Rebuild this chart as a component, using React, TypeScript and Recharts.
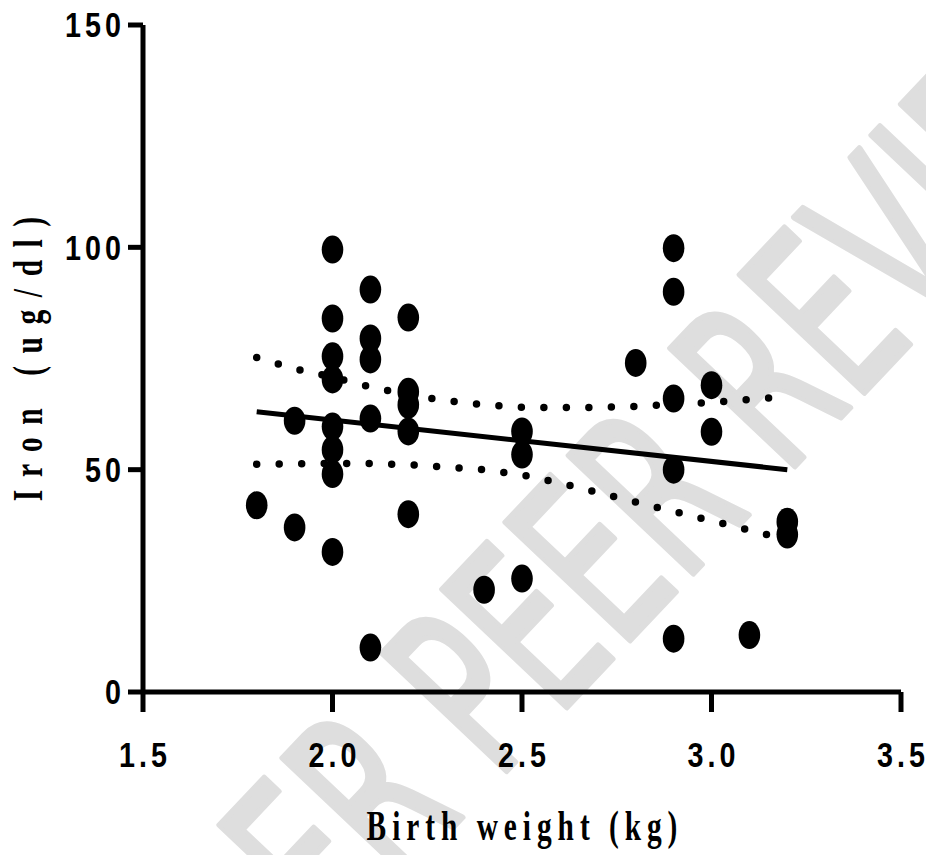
import React from 'react';
import { ScatterChart, Scatter, XAxis, YAxis } from 'recharts';

// ---- data ----
const birthWeight = [1.8, 1.9, 1.9, 2.0, 2.0, 2.0, 2.0, 2.0, 2.0, 2.0, 2.0, 2.1, 2.1, 2.1, 2.1, 2.1, 2.2, 2.2, 2.2, 2.2, 2.2, 2.4, 2.5, 2.5, 2.5, 2.8, 2.9, 2.9, 2.9, 2.9, 2.9, 3.0, 3.0, 3.1, 3.2, 3.2];
const iron = [42, 61, 37, 99.5, 84, 75.5, 70.3, 59.7, 54.5, 49, 31.5, 90.5, 79.5, 74.8, 61.5, 10, 84.2, 67.5, 64.6, 58.6, 40, 23, 58.6, 53.4, 25.5, 74, 99.8, 90, 66, 50, 12, 69, 58.5, 12.8, 38.3, 35.4];

const fitX = [1.8, 3.2];
const fitY = [63, 50];

const ciX = [1.8, 1.9, 2.0, 2.1, 2.2, 2.3, 2.4, 2.5, 2.6, 2.7, 2.8, 2.9, 3.0, 3.1, 3.2];
const ciUpper = [75.2, 72.7, 70.8, 68.6, 66.9, 65.5, 64.6, 64.0, 64.0, 64.0, 64.2, 64.7, 65.1, 65.8, 66.4];
const ciLower = [51.2, 51.3, 51.4, 51.4, 51.1, 50.6, 50.0, 48.8, 47.0, 44.9, 42.7, 40.6, 38.5, 36.4, 34.2];

const xTicks = [1.5, 2.0, 2.5, 3.0, 3.5];
const xTickLabels = ['1.5', '2.0', '2.5', '3.0', '3.5'];
const yTicks = [0, 50, 100, 150];
const yTickLabels = ['0', '50', '100', '150'];

const xTitle = 'Birth weight (kg)';
const yTitle = 'Iron (ug/dl)';
const watermarkA = 'UNDER';
const watermarkB = 'PEER REVIEW';

const points = birthWeight.map((x, i) => ({ x, y: iron[i] }));
const fitData = fitX.map((x, i) => ({ x, y: fitY[i] }));
const upperData = ciX.map((x, i) => ({ x, y: ciUpper[i] }));
const lowerData = ciX.map((x, i) => ({ x, y: ciLower[i] }));

const tickFont = "'Liberation Sans', Arial, sans-serif";
const titleFont = "'Liberation Serif', 'Times New Roman', serif";

const XTick = (props: any) => {
  const { x, y, payload } = props;
  const idx = xTicks.indexOf(payload.value);
  const label = idx >= 0 ? xTickLabels[idx] : String(payload.value);
  return (
    <g transform={`translate(${x},${y}) scale(0.82,1)`}>
      <text x={2.5} y={0} dy="0.71em" textAnchor="middle" fontFamily={tickFont} fontWeight="bold" fontSize={35} letterSpacing={5} fill="#000">
        {label}
      </text>
    </g>
  );
};

const YTick = (props: any) => {
  const { x, y, payload } = props;
  const idx = yTicks.indexOf(payload.value);
  const label = idx >= 0 ? yTickLabels[idx] : String(payload.value);
  return (
    <g transform={`translate(${x},${y}) scale(0.82,1)`}>
      <text x={5} y={0} dy="0.355em" textAnchor="end" fontFamily={tickFont} fontWeight="bold" fontSize={35} letterSpacing={5} fill="#000">
        {label}
      </text>
    </g>
  );
};

const XTitle = (props: any) => {
  const vb = props.viewBox || { x: 143, y: 692, width: 758, height: 100 };
  const cx = vb.x + vb.width / 2;
  const by = vb.y + 148;
  return (
    <g transform={`translate(${cx},${by}) scale(0.7,1)`}>
      <text x={4.25} y={0} textAnchor="middle" fontFamily={titleFont} fontWeight="bold" fontSize={42} letterSpacing={8.5} fill="#000">
        {xTitle}
      </text>
    </g>
  );
};

const YTitle = (props: any) => {
  const vb = props.viewBox || { x: 0, y: 25, width: 143, height: 667 };
  const cy = vb.y + 334;
  return (
    <g transform={`translate(42,${cy}) rotate(-90) scale(0.7,1)`}>
      <text x={9} y={0} textAnchor="middle" fontFamily={titleFont} fontWeight="bold" fontSize={42} letterSpacing={18} fill="#000">
        {yTitle}
      </text>
    </g>
  );
};

const Dot = (p: any) => <ellipse cx={p.cx} cy={p.cy} rx={10.8} ry={14} fill="#000" />;
const NoDot = () => <g />;

export default function App() {
  return (
    <div style={{ position: 'absolute', left: 0, top: 0, width: 926, height: 855, background: '#fff' }}>
      <svg width={926} height={855} style={{ position: 'absolute', left: 0, top: 0 }}>
        <g transform="translate(496,782) rotate(-46.6) scale(0.62,1)">
          <text x={-70} y={0} textAnchor="end" fontFamily="'DejaVu Sans', sans-serif" fontSize={235} fill="#dedede" stroke="#dedede" strokeWidth={6} strokeLinejoin="round">
            {watermarkA}
          </text>
          <text x={0} y={0} textAnchor="start" fontFamily="'DejaVu Sans', sans-serif" fontSize={235} fill="#dedede" stroke="#dedede" strokeWidth={6} strokeLinejoin="round">
            {watermarkB}
          </text>
        </g>
      </svg>
      <div style={{ position: 'absolute', left: 0, top: 0 }}>
        <ScatterChart width={926} height={855} margin={{ top: 25, right: 25, left: 0, bottom: 63 }}>
          <XAxis
            type="number"
            dataKey="x"
            domain={[1.5, 3.5]}
            ticks={xTicks}
            height={100}
            tickSize={20}
            tickMargin={30}
            axisLine={{ stroke: '#000', strokeWidth: 5 }}
            tickLine={{ stroke: '#000', strokeWidth: 5 }}
            tick={XTick}
            label={XTitle}
            allowDataOverflow
            interval={0}
          />
          <YAxis
            type="number"
            dataKey="y"
            domain={[0, 150]}
            ticks={yTicks}
            width={143}
            tickSize={15}
            tickMargin={7}
            axisLine={{ stroke: '#000', strokeWidth: 5 }}
            tickLine={{ stroke: '#000', strokeWidth: 5 }}
            tick={YTick}
            label={YTitle}
            allowDataOverflow
            interval={0}
          />
          <Scatter
            data={upperData}
            shape={NoDot}
            line={{ stroke: '#000', strokeWidth: 7.5, strokeDasharray: '0 22.5', strokeLinecap: 'round' }}
            lineType="joint"
            isAnimationActive={false}
          />
          <Scatter
            data={lowerData}
            shape={NoDot}
            line={{ stroke: '#000', strokeWidth: 7.5, strokeDasharray: '0 22.5', strokeLinecap: 'round' }}
            lineType="joint"
            isAnimationActive={false}
          />
          <Scatter
            data={fitData}
            shape={NoDot}
            line={{ stroke: '#000', strokeWidth: 5 }}
            lineType="joint"
            isAnimationActive={false}
          />
          <Scatter data={points} shape={Dot} fill="#000" isAnimationActive={false} />
        </ScatterChart>
      </div>
    </div>
  );
}
